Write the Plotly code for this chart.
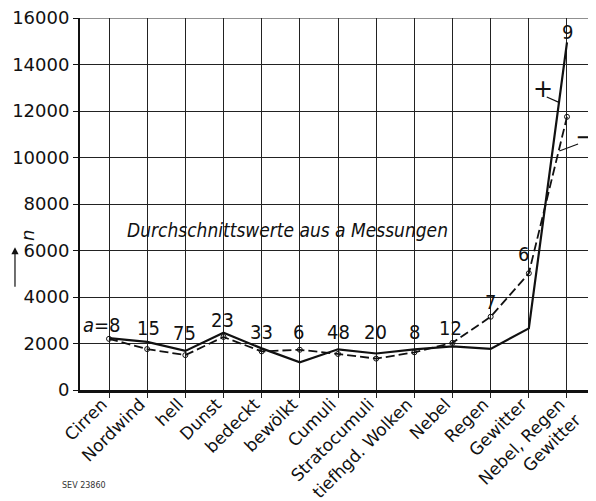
import plotly.graph_objects as go

categories = ["Cirren", "Nordwind", "hell", "Dunst", "bedeckt", "bewölkt", "Cumuli",
              "Stratocumuli", "tiefhgd. Wolken", "Nebel", "Regen", "Gewitter",
              "Nebel, Regen<br>Gewitter"]
solid_plus = [2230, 2070, 1680, 2460, 1790, 1190, 1750, 1570, 1750, 1880, 1770, 2650, 14950]
dashed_minus = [2200, 1760, 1500, 2280, 1660, 1730, 1550, 1350, 1620, 2030, 3150, 5020, 11750]
counts = ["a=8", "15", "75", "23", "33", "6", "48", "20", "8", "12", "7", "6", "9"]
y_ticks = [0, 2000, 4000, 6000, 8000, 10000, 12000, 14000, 16000]
y_ticktext = [str(v) for v in y_ticks]

xs = list(range(len(categories)))

fig = go.Figure()
fig.add_trace(go.Scatter(
    x=xs, y=dashed_minus, mode="lines+markers",
    line=dict(color="#111", width=1.8, dash="9px,4px"),
    marker=dict(symbol="circle-open", size=5, color="#111", line=dict(width=1)),
    showlegend=False, cliponaxis=False))
fig.add_trace(go.Scatter(
    x=xs, y=solid_plus, mode="lines",
    line=dict(color="#111", width=2.2),
    showlegend=False, cliponaxis=False))

label_dx = [0, 1, -1, -1, 0, -1, 0, -1, 0, -2, 0, -5, 1]
label_y = [2800, 2680, 2450, 3020, 2500, 2500, 2500, 2500, 2500, 2680, 3780, 5850, 15400]
lab_font = dict(family="DejaVu Sans Condensed, DejaVu Sans", size=20, color="#111")
for i, (txt, dx, ly) in enumerate(zip(counts, label_dx, label_y)):
    if i == 0:
        fig.add_annotation(x=xs[i], y=ly, text="<i>a</i>=8", showarrow=False,
                           xanchor="right", xshift=14, font=lab_font)
    else:
        fig.add_annotation(x=xs[i], y=ly, text=txt, showarrow=False, xshift=dx,
                           font=lab_font)

fig.add_annotation(x=4.68, y=6880, text="<i>Durchschnittswerte aus a Messungen</i>",
                   showarrow=False,
                   font=dict(family="DejaVu Sans Condensed, DejaVu Sans", size=19, color="#111"))

# + / - labels with leader lines
fig.add_annotation(x=11.37, y=12950, text="+", showarrow=False,
                   font=dict(family="DejaVu Sans", size=24, color="#111"))
fig.add_shape(type="line", x0=11.47, y0=12600, x1=11.79, y1=12370,
              line=dict(color="#111", width=1.2))
fig.add_annotation(x=12.47, y=10880, text="−", showarrow=False,
                   font=dict(family="DejaVu Sans", size=24, color="#111"))
fig.add_shape(type="line", x0=12.29, y0=10580, x1=11.8, y1=10280,
              line=dict(color="#111", width=1.2))

# top border line of the grid
fig.add_shape(type="line", xref="paper", yref="y", x0=0, x1=1, y0=16000, y1=16000,
              line=dict(color="#222", width=1.2))

# y-axis label: arrow and italic n
fig.add_annotation(xref="paper", yref="paper", x=-0.126, y=0.384, text="",
                   showarrow=True, ax=0, ay=41, arrowhead=2, arrowsize=1.2,
                   arrowwidth=1.2, arrowcolor="#111")
fig.add_annotation(xref="paper", yref="paper", x=-0.126, y=0.415, text="<i>n</i>",
                   showarrow=False, textangle=-90,
                   font=dict(family="DejaVu Sans", size=18, color="#111"))

fig.add_annotation(xref="paper", yref="paper", x=-0.039, y=-0.274, text="SEV 23860",
                   showarrow=False,
                   font=dict(family="DejaVu Sans", size=8, color="#333"))

fig.update_layout(
    width=596, height=501,
    margin=dict(l=72, r=8, t=10, b=119),
    paper_bgcolor="white", plot_bgcolor="white",
    font=dict(family="DejaVu Sans", size=18, color="#111"),
    xaxis=dict(
        range=[-0.76, 12.76], tickmode="array", tickvals=xs, ticktext=categories,
        tickangle=-45, showgrid=True, gridcolor="#222", gridwidth=1,
        ticks="outside", ticklen=5, tickcolor="#222", tickwidth=1,
        showline=True, linecolor="#111", linewidth=2.5, zeroline=False,
        automargin=False, ticklabelstandoff=-10, ticklabelshift=-7,
        tickfont=dict(family="DejaVu Sans", size=17, color="#111"),
    ),
    yaxis=dict(
        range=[0, 16000], tickmode="array", tickvals=y_ticks, ticktext=y_ticktext,
        showgrid=True, gridcolor="#222", gridwidth=1,
        ticks="outside", ticklen=5, tickcolor="#111", tickwidth=1.2,
        showline=True, linecolor="#111", linewidth=2, zeroline=False,
        automargin=False, ticklabeloverflow="allow",
        tickfont=dict(family="DejaVu Sans", size=18, color="#111"),
    ),
)

fig.write_html("out.html")
